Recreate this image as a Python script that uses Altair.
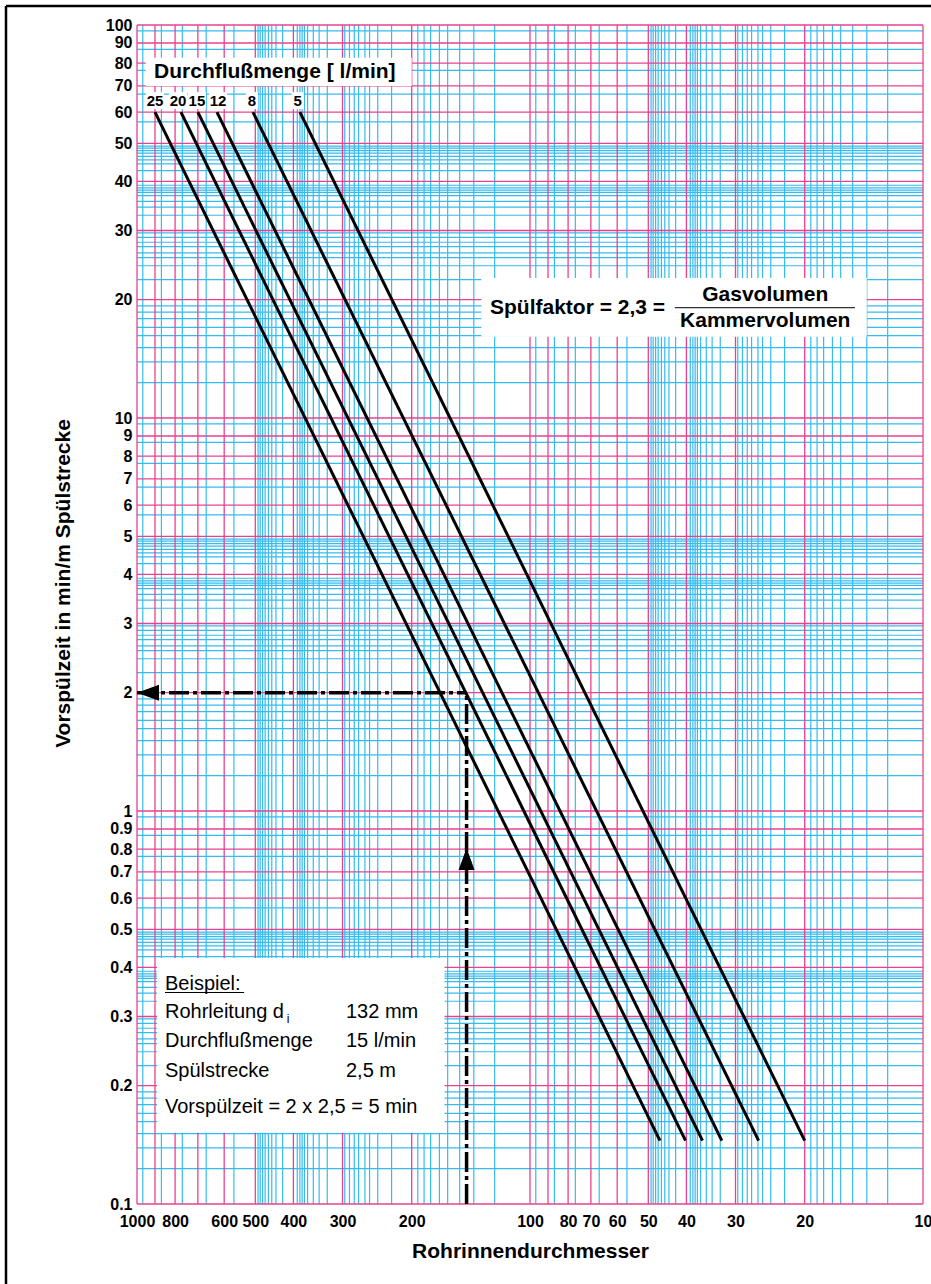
import altair as alt
import pandas as pd

# ---------------- data ----------------
flows = [25, 20, 15, 12, 8, 5]                       # Durchflußmenge [l/min]
d_top = [900, 773, 700, 626, 507, 385]               # Rohrinnendurchmesser at t_top
d_bot = [46.7, 40.2, 36.4, 32.5, 26.2, 20.0]         # Rohrinnendurchmesser at t_bot
t_top = 60
t_bot = 0.145

x_ticks = [1000, 800, 600, 500, 400, 300, 200, 100, 80, 70, 60, 50, 40, 30, 20, 10]
y_ticks = [100, 90, 80, 70, 60, 50, 40, 30, 20, 10, 9, 8, 7, 6, 5, 4, 3, 2,
           1, 0.9, 0.8, 0.7, 0.6, 0.5, 0.4, 0.3, 0.2, 0.1]

example_d = 145      # vertical dash-dot line as drawn
example_t = 2        # Vorspülzeit per m

# graph-paper structure (per-decade multipliers, as printed on the paper)
major_mult = [1, 2, 3, 4, 5, 6, 7, 8, 9]
minor_mult = [1.93, 1.86, 1.79, 1.70, 1.62, 1.51, 1.39, 1.23,
              2.96, 2.88, 2.80, 2.73, 2.63, 2.56, 2.44, 2.25,
              3.91, 3.85, 3.80, 3.75, 3.68, 3.56, 3.44, 3.28,
              4.92, 4.86, 4.79, 4.72, 4.63, 4.54, 4.43, 4.26,
              5.667, 6.667, 7.667, 8.667, 9.667]
x_decades = [10, 100]
y_decades = [0.1, 1, 10]

PINK = "#e8428f"
CYAN = "#36bbee"
FONT = "Liberation Sans"
W, H = 786, 1179

xs = alt.Scale(type="log", domain=[10, 1000], reverse=True, nice=False)
ys = alt.Scale(type="log", domain=[0.1, 100], nice=False)

XAX = alt.Axis(values=x_ticks, format="~g", labelFont=FONT, labelFontSize=16,
               labelFontWeight="bold", labelColor="black", ticks=False,
               domain=False, grid=False, labelPadding=9, labelFlush=False,
               labelOverlap=False, title="Rohrinnendurchmesser",
               titleFont=FONT, titleFontSize=21, titleFontWeight="bold",
               titleColor="black", titleBaseline="alphabetic", titleY=53)
YAX = alt.Axis(values=y_ticks, format="~g", labelFont=FONT, labelFontSize=16,
               labelFontWeight="bold", labelColor="black", ticks=False,
               domain=False, grid=False, labelPadding=5, labelFlush=False,
               labelOverlap=False, title="Vorspülzeit in min/m Spülstrecke",
               titleFont=FONT, titleFontSize=21, titleFontWeight="bold",
               titleColor="black", titleX=-64, titleY=558, titleBaseline="bottom")


def X(field):
    return alt.X(field, scale=xs, axis=XAX)


def Y(field):
    return alt.Y(field, scale=ys, axis=YAX)


# ---------------- grid ----------------
gx_major = [round(m * d, 6) for d in x_decades for m in major_mult] + [1000]
gx_minor = [round(m * d, 6) for d in x_decades for m in minor_mult]
gy_major = [round(m * d, 6) for d in y_decades for m in major_mult] + [100]
gy_minor = [round(m * d, 6) for d in y_decades for m in minor_mult]


def vrules(vals, color, w):
    return alt.Chart(pd.DataFrame({"x": vals})).mark_rule(
        color=color, strokeWidth=w).encode(x=X("x:Q"))


def hrules(vals, color, w):
    return alt.Chart(pd.DataFrame({"y": vals})).mark_rule(
        color=color, strokeWidth=w).encode(y=Y("y:Q"))


grid = [vrules(gx_minor, CYAN, 1.2), hrules(gy_minor, CYAN, 1.2),
        vrules(gx_major, PINK, 1.3), hrules(gy_major, PINK, 1.3)]

# ---------------- flow lines ----------------
rows = []
for f, a, b in zip(flows, d_top, d_bot):
    rows.append({"flow": f, "x": a, "y": t_top})
    rows.append({"flow": f, "x": b, "y": t_bot})
lines_df = pd.DataFrame(rows)

lines = alt.Chart(lines_df).mark_line(color="black", strokeWidth=3).encode(
    x=X("x:Q"), y=Y("y:Q"), detail="flow:N")

# ---------------- white boxes ----------------
boxes_df = pd.DataFrame({
    "x": [950, 133, 889], "x2": [200, 13.9, 165],
    "y": [82.5, 22.7, 0.4227], "y2": [70, 16.1, 0.1517]})
boxes = alt.Chart(boxes_df).mark_rect(fill="white").encode(
    x=X("x:Q"), x2="x2:Q", y=Y("y:Q"), y2="y2:Q")

# flow labels with white background
lab_x = [900, 786, 704, 622, 510, 390]
lab_df = pd.DataFrame({"lx": lab_x, "txt": [str(f) for f in flows]})
lab_df["hw"] = [9 if f >= 10 else 6 for f in flows]
lab_df["x"] = lab_df["lx"] * 10 ** (lab_df["hw"] / 393)
lab_df["x2"] = lab_df["lx"] / 10 ** (lab_df["hw"] / 393)
lab_df["y"] = 67.5
lab_df["y2"] = 61.1
lab_df["yt"] = 62.2
lab_bg = alt.Chart(lab_df).mark_rect(fill="white").encode(
    x=X("x:Q"), x2="x2:Q", y=Y("y:Q"), y2="y2:Q")
lab_txt = alt.Chart(lab_df).mark_text(font=FONT, fontSize=15, fontWeight="bold",
                                      baseline="alphabetic", align="center",
                                      color="black").encode(
    x=X("lx:Q"), y=Y("yt:Q"), text="txt:N")

# ---------------- example: dash-dot lines and arrows ----------------
ex_h = pd.DataFrame({"x": [example_d, 1000], "y": [example_t, example_t]})
ex_v = pd.DataFrame({"x": [example_d, example_d], "y": [0.1, example_t]})
dash = [20, 4, 4, 4]
ex_hl = alt.Chart(ex_h).mark_line(color="black", strokeWidth=3.5, strokeDash=dash).encode(
    x=X("x:Q"), y=Y("y:Q"))
ex_vl = alt.Chart(ex_v).mark_line(color="black", strokeWidth=3.5, strokeDash=dash).encode(
    x=X("x:Q"), y=Y("y:Q"), order="y:Q")

arrow_left = alt.Chart(pd.DataFrame({"x": [937.6], "y": [example_t]})).mark_point(
    shape="M-1,0L1,-0.727L1,0.727Z", filled=True, color="black", size=484, opacity=1,
    strokeWidth=0).encode(x=X("x:Q"), y=Y("y:Q"))
arrow_up = alt.Chart(pd.DataFrame({"x": [example_d], "y": [0.755]})).mark_point(
    shape="M0,-1L0.727,1L-0.727,1Z", filled=True, color="black", size=484, opacity=1,
    strokeWidth=0).encode(x=X("x:Q"), y=Y("y:Q"))


# ---------------- texts ----------------
def text_layer(df, size, weight="normal", align="left"):
    return alt.Chart(df).mark_text(font=FONT, fontSize=size, fontWeight=weight, align=align,
                                   baseline="alphabetic", color="black").encode(
        x=X("x:Q"), y=Y("y:Q"), text="txt:N")


t_head = text_layer(pd.DataFrame({"x": [905], "y": [73.2],
                                  "txt": ["Durchflußmenge [ l/min]"]}), 21, "bold")
t_spf = text_layer(pd.DataFrame({"x": [126.4], "y": [18.39],
                                 "txt": ["Spülfaktor = 2,3 ="]}), 21, "bold")
t_frac = text_layer(pd.DataFrame({"x": [25.2, 25.2], "y": [19.89, 17.08],
                                  "txt": ["Gasvolumen", "Kammervolumen"]}), 21, "bold", "center")
frac_line = alt.Chart(pd.DataFrame({"x": [42.8], "x2": [14.9], "y": [19.09]})).mark_rule(
    color="#333333", strokeWidth=1.2).encode(x=X("x:Q"), x2="x2:Q", y=Y("y:Q"))

bsp_left = pd.DataFrame({"x": [848.7] * 5,
                         "y": [0.3504, 0.2969, 0.2513, 0.2108, 0.1702],
                         "txt": ["Beispiel:", "Rohrleitung d", "Durchflußmenge", "Spülstrecke",
                                 "Vorspülzeit = 2 x 2,5 = 5 min"]})
bsp_right = pd.DataFrame({"x": [293.9] * 3, "y": [0.2969, 0.2513, 0.2108],
                          "txt": ["132 mm", "15 l/min", "2,5 m"]})
t_bl = text_layer(bsp_left, 20)
t_br = text_layer(bsp_right, 20)
t_sub = text_layer(pd.DataFrame({"x": [416], "y": [0.2888], "txt": ["i"]}), 12)
underline = alt.Chart(pd.DataFrame({"x": [848.7], "x2": [534], "y": [0.3453]})).mark_rule(
    color="black", strokeWidth=1.2).encode(x=X("x:Q"), x2="x2:Q", y=Y("y:Q"))

# ---------------- outer frame (page border) ----------------
frame_l = alt.Chart(pd.DataFrame({"a": [0]})).mark_rule(color="black", strokeWidth=2.5).encode(
    x=alt.value(-131), y=alt.value(-19), y2=alt.value(1300))
frame_t = alt.Chart(pd.DataFrame({"a": [0]})).mark_rule(color="black", strokeWidth=2.5).encode(
    y=alt.value(-19), x=alt.value(-131), x2=alt.value(820))

chart = alt.layer(
    *grid, lab_bg, boxes, lines, ex_hl, ex_vl, arrow_left, arrow_up,
    lab_txt, t_head, t_spf, t_frac, frac_line, t_bl, t_br, t_sub, underline,
    frame_l, frame_t
).properties(
    width=W, height=H,
    padding={"left": 137, "top": 25, "right": 8, "bottom": 80},
    autosize=alt.AutoSizeParams(type="none"),
    background="white"
).configure_view(stroke=None)

chart.save("out.html", embed_options={"renderer": "svg", "actions": False})
